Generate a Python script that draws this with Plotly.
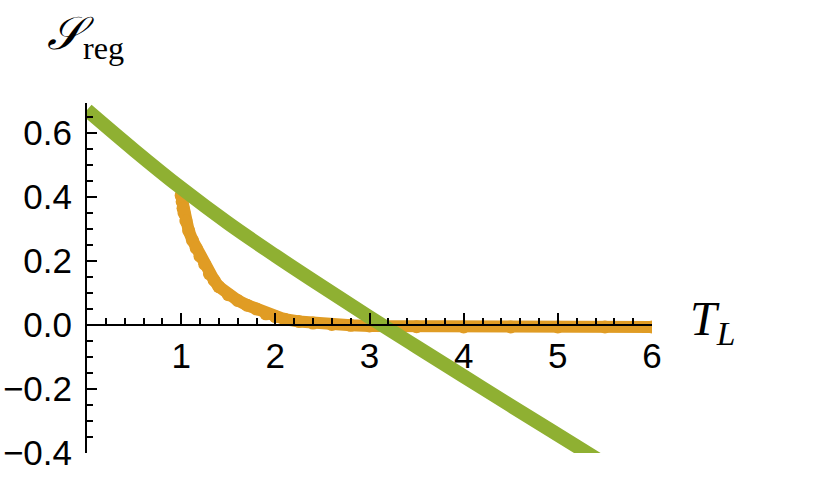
import plotly.graph_objects as go

# green curve
green_T = [0.0, 0.5, 1.0, 1.5, 2.0, 2.5, 3.0, 3.5, 4.0, 4.5, 5.0, 5.5]
green_S = [0.672, 0.547, 0.428, 0.318, 0.217, 0.12, 0.025, -0.068, -0.16, -0.252, -0.343, -0.434]

# orange curve (dense points)
orange_T = [1.00, 1.01, 1.02, 1.03, 1.05, 1.08, 1.12, 1.16, 1.20, 1.25, 1.30, 1.35, 1.40,
            1.50, 1.60, 1.70, 1.80, 1.90, 2.00, 2.10, 2.25, 2.40, 2.60, 2.80, 3.00,
            3.50, 4.00, 4.50, 5.00, 5.50, 6.00]
orange_S = [0.405, 0.385, 0.365, 0.35, 0.325, 0.295, 0.265, 0.24, 0.215, 0.19, 0.16, 0.14, 0.12,
            0.095, 0.077, 0.062, 0.05, 0.035, 0.026, 0.018, 0.011, 0.006, 0.002, -0.001, -0.003,
            -0.005, -0.006, -0.006, -0.006, -0.006, -0.006]

x_ticks = [1, 2, 3, 4, 5, 6]
y_ticks = [-0.4, -0.2, 0.0, 0.2, 0.4, 0.6]
y_labels = ["\u22120.4", "\u22120.2", "0.0", "0.2", "0.4", "0.6"]

x_range = [0, 6]
y_range = [-0.4, 0.694]

orange = "#E09C24"
green = "#8FB032"

fig = go.Figure()
fig.add_trace(go.Scatter(x=orange_T, y=orange_S, mode="lines+markers",
                         line=dict(color=orange, width=12),
                         marker=dict(color=orange, size=13),
                         showlegend=False))
fig.add_trace(go.Scatter(x=green_T, y=green_S, mode="lines",
                         line=dict(color=green, width=14, shape="spline"),
                         showlegend=False))

tickfont = dict(family="Liberation Sans, Arial, sans-serif", size=35, color="black")

fig.update_layout(
    template="none",
    width=830, height=479,
    margin=dict(l=87, r=178, t=103, b=26),
    paper_bgcolor="white", plot_bgcolor="white",
    xaxis=dict(range=x_range, tickvals=x_ticks, ticktext=[str(v) for v in x_ticks],
               showgrid=False, zeroline=False, showline=True, linecolor="black", linewidth=2,
               ticks="inside", ticklen=11, tickwidth=2, tickcolor="black",
               minor=dict(ticks="inside", ticklen=6, tickwidth=1.5, tickcolor="black",
                          dtick=0.2, tick0=0, showgrid=False),
               anchor="free", position=-y_range[0] / (y_range[1] - y_range[0]),
               automargin=False, tickfont=tickfont, ticklabelstandoff=0),
    yaxis=dict(range=y_range, tickvals=y_ticks, ticktext=y_labels,
               showgrid=False, zeroline=False, showline=True, linecolor="black", linewidth=2,
               ticks="inside", ticklen=10, tickwidth=2, tickcolor="black",
               minor=dict(ticks="inside", ticklen=6, tickwidth=1.5, tickcolor="black",
                          dtick=0.05, tick0=0, showgrid=False),
               automargin=False, tickfont=tickfont, ticklabelstandoff=6),
    annotations=[
        dict(text="<i>\U0001D4AE</i><sub>reg</sub>", xref="paper", yref="paper",
             x=-0.075, y=1.19, xanchor="left", yanchor="middle", showarrow=False,
             font=dict(family="Liberation Serif, DejaVu Serif, serif", size=46, color="black")),
        dict(text="<i>T<sub>L</sub></i>", xref="paper", yref="paper",
             x=1.063, y=0.375, xanchor="left", yanchor="middle", showarrow=False,
             font=dict(family="Liberation Serif, DejaVu Serif, serif", size=48, color="black")),
    ],
)

# drop the default 8px body margin so the figure fills the window
fig.write_html("out.html", config={"displayModeBar": False},
               post_script="document.body.style.margin='0';")
